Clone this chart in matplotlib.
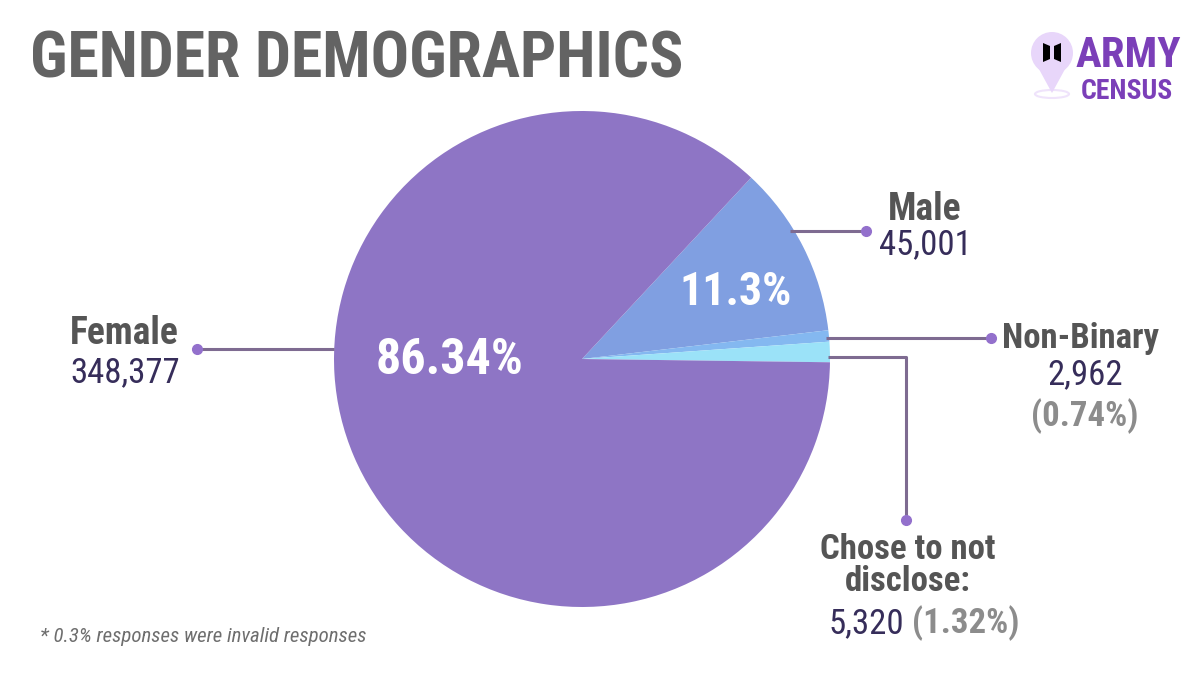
import matplotlib
matplotlib.use("Agg")
import matplotlib.pyplot as plt
from matplotlib.patches import Circle, Polygon, Ellipse
import logging
logging.getLogger('matplotlib.font_manager').setLevel(logging.ERROR)

# ---- data ----
categories = ["Male", "Non-Binary", "Chose to not disclose", "Female"]
counts = [45001, 2962, 5320, 348377]
pct_labels = ["11.3%", "0.74%", "1.32%", "86.34%"]
count_labels = ["45,001", "2,962", "5,320", "348,377"]
colors = ["#809FE1", "#84B8F0", "#9BE2F8", "#8E75C5"]

FAM = ['Roboto Condensed', 'Roboto', 'DejaVu Sans']
plt.rcParams['font.family'] = FAM

W, H = 1200, 675
fig = plt.figure(figsize=(12, 6.75), dpi=100)
ax = fig.add_axes([0, 0, 1, 1])

def Y(py):
    return H - py

cx, cy, R = 582, Y(359), 248
ax.pie(counts, colors=colors, startangle=47, counterclock=False,
       center=(cx, cy), radius=R, wedgeprops=dict(linewidth=0))
ax.set_xlim(0, W)
ax.set_ylim(0, H)
ax.set_aspect('equal')
ax.axis('off')

LINE = "#7E6B91"
DOT = "#9370CC"
LABEL = "#555555"
NUM = "#362D5A"
PCTG = "#8C8C8C"

def leader(xs, ys):
    ax.plot(xs, [Y(v) for v in ys], color=LINE, lw=2.2, solid_capstyle='butt', zorder=3)
    ax.plot([xs[-1]], [Y(ys[-1])], 'o', color=DOT, ms=7, zorder=4)

leader([790, 866], [231, 231])
leader([826, 991], [338, 338])
leader([828, 906, 906], [357, 357, 520])
leader([334, 197], [349, 349])

# inside labels
ax.text(736, Y(292), pct_labels[0], color="white", fontsize=33, fontweight='bold',
        ha='center', va='center')
ax.text(450, Y(360), pct_labels[3], color="white", fontsize=36, fontweight='bold',
        ha='center', va='center')

# outside labels
ax.text(925, Y(220), categories[0], color=LABEL, fontsize=27, fontweight='bold',
        ha='center', va='baseline')
ax.text(925, Y(254), count_labels[0], color=NUM, fontsize=25, ha='center', va='baseline')

ax.text(1081, Y(348), categories[1], color=LABEL, fontsize=25, fontweight='bold',
        ha='center', va='baseline')
ax.text(1085, Y(384), count_labels[1], color=NUM, fontsize=25, ha='center', va='baseline')
ax.text(1085, Y(426), "(" + pct_labels[1] + ")", color=PCTG, fontsize=25, fontweight='bold',
        ha='center', va='baseline')

ax.text(908, Y(559), "Chose to not", color=LABEL, fontsize=25, fontweight='bold',
        ha='center', va='baseline')
ax.text(908, Y(591), "disclose:", color=LABEL, fontsize=25, fontweight='bold',
        ha='center', va='baseline')
ax.text(866, Y(633), count_labels[2], color=NUM, fontsize=25, ha='center', va='baseline')
ax.text(966, Y(633), "(" + pct_labels[2] + ")", color=PCTG, fontsize=25, fontweight='bold',
        ha='center', va='baseline')

ax.text(124, Y(344), "Female", color=LABEL, fontsize=27, fontweight='bold',
        ha='center', va='baseline')
ax.text(125, Y(382), count_labels[3], color=NUM, fontsize=25, ha='center', va='baseline')

# title
ax.text(30, Y(78), "GENDER DEMOGRAPHICS", color="#636363", fontsize=46, fontweight='bold',
        ha='left', va='baseline')

# footnote
ax.text(40, Y(642), "* 0.3% responses were invalid responses", color="#6E6E6E",
        fontsize=15, style='italic', ha='left', va='baseline')

# logo
ax.add_patch(Ellipse((1052, Y(94)), 34, 8, facecolor="none", edgecolor="#EFE3FB", lw=1.5, zorder=2))
ax.add_patch(Polygon([(1034, Y(60)), (1070, Y(60)), (1052, Y(93))], closed=True,
                     facecolor="#E8D6FA", edgecolor="none", zorder=3))
ax.add_patch(Circle((1052, Y(53)), 21, facecolor="#E8D6FA", edgecolor="none", zorder=3))
ax.add_patch(Polygon([(1043, Y(43)), (1050, Y(46)), (1050, Y(59)), (1043, Y(62))],
                     closed=True, facecolor="black", edgecolor="none", zorder=4))
ax.add_patch(Polygon([(1061, Y(43)), (1054, Y(46)), (1054, Y(59)), (1061, Y(62))],
                     closed=True, facecolor="black", edgecolor="none", zorder=4))
ax.text(1128, Y(67), "ARMY", color="#7B3FB8", fontsize=31, fontweight='bold',
        ha='center', va='baseline')
ax.text(1127, Y(99), "CENSUS", color="#7B3FB8", fontsize=20, fontweight='bold',
        ha='center', va='baseline')

fig.savefig("out.png", dpi=100, facecolor="white")
